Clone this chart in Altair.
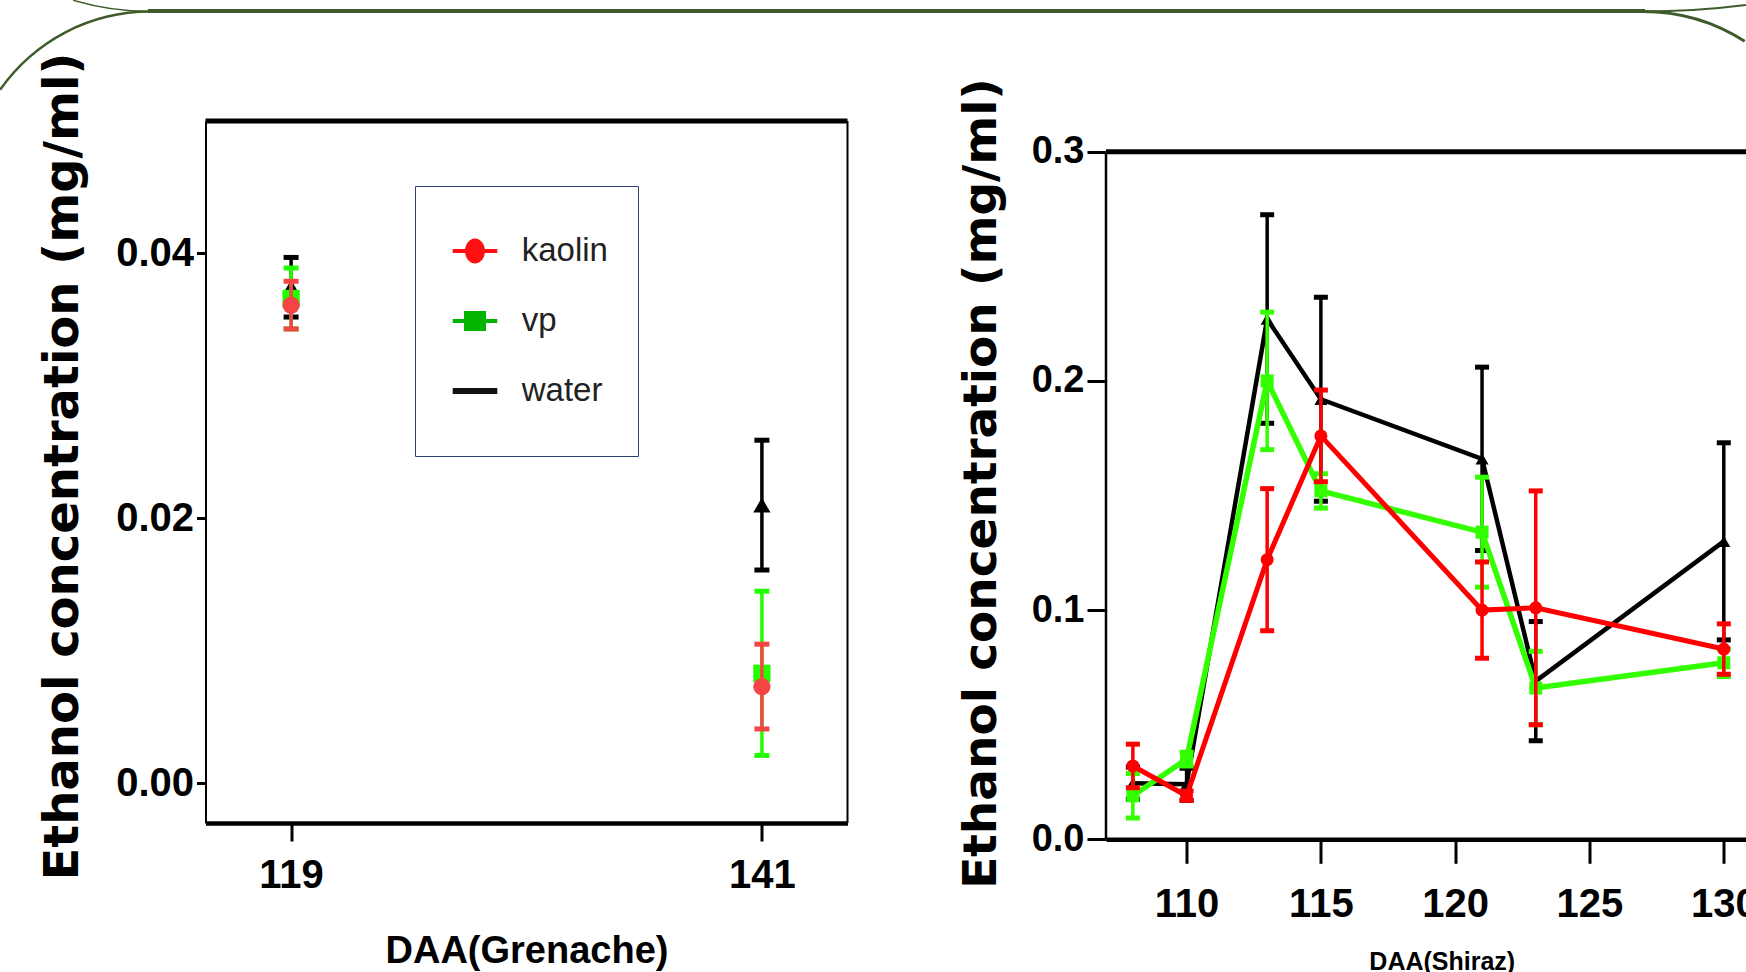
import altair as alt
import pandas as pd

# ---------------- data ----------------
SERIES = ["kaolin", "vp", "water"]

# Grenache panel (left)
G_DAA = [119, 141]
G_KAOLIN = [0.0361, 0.0073]
G_KAOLIN_ERR = [0.0018, 0.0032]
G_VP = [0.0366, 0.0083]
G_VP_ERR = [0.0023, 0.0062]
G_WATER = [0.03745, 0.0210]
G_WATER_ERR = [0.00225, 0.0049]
G_XTICKS = [119, 141]
G_YTICKS = [0.0, 0.02, 0.04]

# Shiraz panel (right)
S_DAA = [108, 110, 113, 115, 121, 123, 130]
S_KAOLIN = [0.032, 0.019, 0.122, 0.176, 0.100, 0.101, 0.083]
S_KAOLIN_ERR = [0.0095, 0.002, 0.031, 0.020, 0.021, 0.051, 0.011]
S_VP = [0.019, 0.035, 0.200, 0.152, 0.134, 0.066, 0.077]
S_VP_ERR = [0.0097, 0.003, 0.030, 0.0075, 0.024, 0.016, 0.006]
S_WATER = [0.0245, 0.024, 0.227, 0.192, 0.166, 0.069, 0.130]
S_WATER_ERR = [0.007, 0.007, 0.0455, 0.0445, 0.040, 0.026, 0.043]
S_XTICKS = [110, 115, 120, 125, 130]
S_YTICKS = [0.0, 0.1, 0.2, 0.3]

YTITLE = "Ethanol concentration (mg/ml)"


def long_table(daa, groups):
    rows = []
    for name, vals, errs in groups:
        for d, v, e in zip(daa, vals, errs):
            rows.append({"daa": d, "series": name, "mean": v, "err": e})
    return pd.DataFrame(rows)


g_df = long_table(G_DAA, [("water", G_WATER, G_WATER_ERR), ("vp", G_VP, G_VP_ERR),
                          ("kaolin", G_KAOLIN, G_KAOLIN_ERR)])
s_df = long_table(S_DAA, [("water", S_WATER, S_WATER_ERR), ("vp", S_VP, S_VP_ERR),
                          ("kaolin", S_KAOLIN, S_KAOLIN_ERR)])
one = pd.DataFrame({"k": [0]})

# ---------------- layout / style ----------------
LAB = "'Liberation Sans', Arial, sans-serif"
WIDE = "'DejaVu Sans', Verdana, sans-serif"
DECO = "#3E5C2A"

PAGE_W, PAGE_H = 1746, 972
OX, OY = 205.5, 121.0            # plot-area origin on the page
W = PAGE_W - OX                  # plot area runs to the right page edge
H = 718.3
W1, H1 = 642, 702                # Grenache panel
X2L, W2 = 900.5, 671.5           # Shiraz panel left edge (relative) and width
Y03 = 30.7                       # pixel of 0.3 in the Shiraz panel

GXS = alt.Scale(domain=[115, 145], range=[0, W1], nice=False, zero=False)
GYS = alt.Scale(domain=[-0.003, 0.05], range=[H1, 0], nice=False, zero=False)
SXS = alt.Scale(domain=[107, 132], range=[X2L, X2L + W2], nice=False, zero=False)
SYS = alt.Scale(domain=[0, 0.3], range=[H, Y03], nice=False, zero=False)

G_XAXIS = alt.Axis(orient="bottom", offset=H1 - H, values=G_XTICKS, format="d",
                   tickSize=18, tickWidth=3, domainWidth=4.5,
                   labelFontSize=40, labelPadding=14.7, labelFlush=False,
                   titleFont=LAB, titleFontSize=38, titleFontWeight="bold",
                   titleBaseline="alphabetic", titleY=139)
G_YAXIS = alt.Axis(orient="left", values=G_YTICKS, format=".2f", tickSize=9, tickWidth=3,
                   domainWidth=2, labelFontSize=40, labelPadding=3, labelFlush=False,
                   titleFont=WIDE, titleFontSize=48, titleFontWeight="bold", titleAngle=270,
                   titleBaseline="alphabetic", titleAlign="center", titleX=-128.5, titleY=345)
S_XAXIS = alt.Axis(orient="bottom", values=S_XTICKS, format="d", tickSize=24, tickWidth=3,
                   domainWidth=4.5, labelFontSize=40, labelPadding=20.9, labelFlush=False,
                   titleFont=LAB, titleFontSize=25, titleFontWeight="bold",
                   titleBaseline="alphabetic", titleY=130.6)
S_YAXIS = alt.Axis(orient="left", offset=-X2L, values=S_YTICKS, format=".1f", domain=False,
                   tickSize=19, tickWidth=3, labelFontSize=38, labelPadding=3, labelFlush=False,
                   titleFont=WIDE, titleFontSize=47, titleFontWeight="bold", titleAngle=270,
                   titleBaseline="alphabetic", titleAlign="center", titleX=-111, titleY=362)


def gx():
    return alt.X("daa:Q", scale=GXS, axis=G_XAXIS, title="DAA(Grenache)")


def gy(f):
    return alt.Y(f"{f}:Q", scale=GYS, axis=G_YAXIS, title=YTITLE)


def sx():
    return alt.X("daa:Q", scale=SXS, axis=S_XAXIS, title="DAA(Shiraz)")


def sy(f):
    return alt.Y(f"{f}:Q", scale=SYS, axis=S_YAXIS, title=YTITLE)


def series_layers(df, name, color, shape, msize, xf, yf, cap_w, cap_t, bar_w, line_w):
    base = alt.Chart(df).transform_filter(alt.datum.series == name).transform_calculate(
        lo="datum.mean - datum.err", hi="datum.mean + datum.err")
    out = []
    if line_w:
        out.append(base.mark_line(color=color, strokeWidth=line_w, opacity=1)
                   .encode(x=xf(), y=yf("mean")))
    out.append(base.mark_rule(color=color, strokeWidth=bar_w, opacity=1)
               .encode(x=xf(), y=yf("lo"), y2=alt.Y2("hi")))
    for f in ("lo", "hi"):
        out.append(base.mark_tick(color=color, orient="horizontal", size=cap_w,
                                  thickness=cap_t, opacity=1)
                   .encode(x=xf(), y=yf(f)))
    out.append(base.mark_point(filled=True, shape=shape, size=msize, color=color, opacity=1,
                               strokeWidth=0)
               .encode(x=xf(), y=yf("mean")))
    return out


def deco_arc(cx, cy, r, w, t1, t2):
    return alt.Chart(one).mark_arc(radius=r + w / 2, radius2=r - w / 2, theta=t1, theta2=t2,
                                   color=DECO).encode(x=alt.value(cx - OX), y=alt.value(cy - OY))


def frame_rule(width, **enc):
    return alt.Chart(one).mark_rule(color="black", strokeWidth=width).encode(**enc)


# ---------------- legend (Grenache panel) ----------------
P_KAOLIN = ("M-0.743,-0.067H0.743V0.067H-0.743Z "
            "M-0.333,0A0.333,0.417 0 1,1 0.333,0A0.333,0.417 0 1,1 -0.333,0Z")
P_VP = "M-0.743,-0.067H0.743V0.067H-0.743Z M-0.367,-0.333H0.367V0.333H-0.367Z"
P_WATER = "M-0.743,-0.1H0.743V0.1H-0.743Z"

LEG = alt.Legend(title=None, orient="none", legendX=209.5, legendY=65, direction="vertical",
                 fillColor="white", strokeColor="#2B4272", padding=30, rowPadding=0,
                 clipHeight=70, symbolSize=3600, symbolStrokeWidth=0, symbolOpacity=1,
                 labelFont=LAB, labelFontSize=33, labelFontWeight="normal",
                 labelColor="#222222", labelOffset=16.7)

legend_layer = alt.Chart(g_df).transform_filter("false").mark_point(filled=True, opacity=1).encode(
    color=alt.Color("series:N", scale=alt.Scale(domain=SERIES,
                                                range=["#FF1010", "#00B400", "#111111"]),
                    legend=LEG),
    shape=alt.Shape("series:N", scale=alt.Scale(domain=SERIES,
                                                range=[P_KAOLIN, P_VP, P_WATER]),
                    legend=LEG),
)

# ---------------- Grenache panel ----------------
left_layers = [
    # slide decoration (green border lines)
    alt.Chart(one).mark_rule(color=DECO, strokeWidth=4)
    .encode(x=alt.value(148 - OX), x2=alt.value(1645 - OX), y=alt.value(11 - OY)),
    deco_arc(150, 194.1, 182.6, 2.5, 5.32, 6.2832),
    deco_arc(150, -258.5, 270, 1.6, 3.1416, 3.43),
    deco_arc(1643, -807.5, 819, 2.0, 3.0156, 3.1416),
    deco_arc(1643, 200.0, 188.5, 3.0, 0.0, 0.57),
    # panel frame: thick top, thin right
    frame_rule(5, x=alt.value(0), x2=alt.value(W1), y=alt.value(0)),
    frame_rule(2, x=alt.value(W1), y=alt.value(0), y2=alt.value(H1)),
]
for name, color, shape in [("water", "#000000", "triangle-up"),
                           ("vp", "#22FF00", "square"),
                           ("kaolin", "#F44545", "circle")]:
    left_layers += series_layers(g_df, name, color, shape, 300, gx, gy,
                                 cap_w=15, cap_t=5, bar_w=3.5, line_w=0)
left_layers.append(legend_layer)
left = alt.layer(*left_layers)

# ---------------- Shiraz panel ----------------
right_layers = [
    frame_rule(5, x=alt.value(X2L), x2=alt.value(X2L + W2), y=alt.value(Y03)),
    frame_rule(2.5, x=alt.value(X2L), y=alt.value(Y03), y2=alt.value(H)),
]
for name, color, shape, lw in [("water", "#000000", "triangle-up", 4.5),
                               ("vp", "#33FF00", "square", 5.5),
                               ("kaolin", "#FF0000", "circle", 5)]:
    right_layers += series_layers(s_df, name, color, shape, 170, sx, sy,
                                  cap_w=14, cap_t=5, bar_w=3.5, line_w=lw)
right = alt.layer(*right_layers)

chart = (
    alt.layer(left, right)
    .resolve_scale(x="independent", y="independent")
    .properties(width=W, height=H,
                autosize=alt.AutoSizeParams(type="none"),
                padding={"left": OX, "top": OY, "right": 0, "bottom": PAGE_H - OY - H},
                background="white")
    .configure_view(strokeWidth=0)
    .configure_axis(grid=False, labelColor="black", titleColor="black", tickColor="black",
                    domainColor="black", labelFont=LAB, labelFontWeight="bold")
)

chart.save("out.html", embed_options={"renderer": "svg", "actions": False})
